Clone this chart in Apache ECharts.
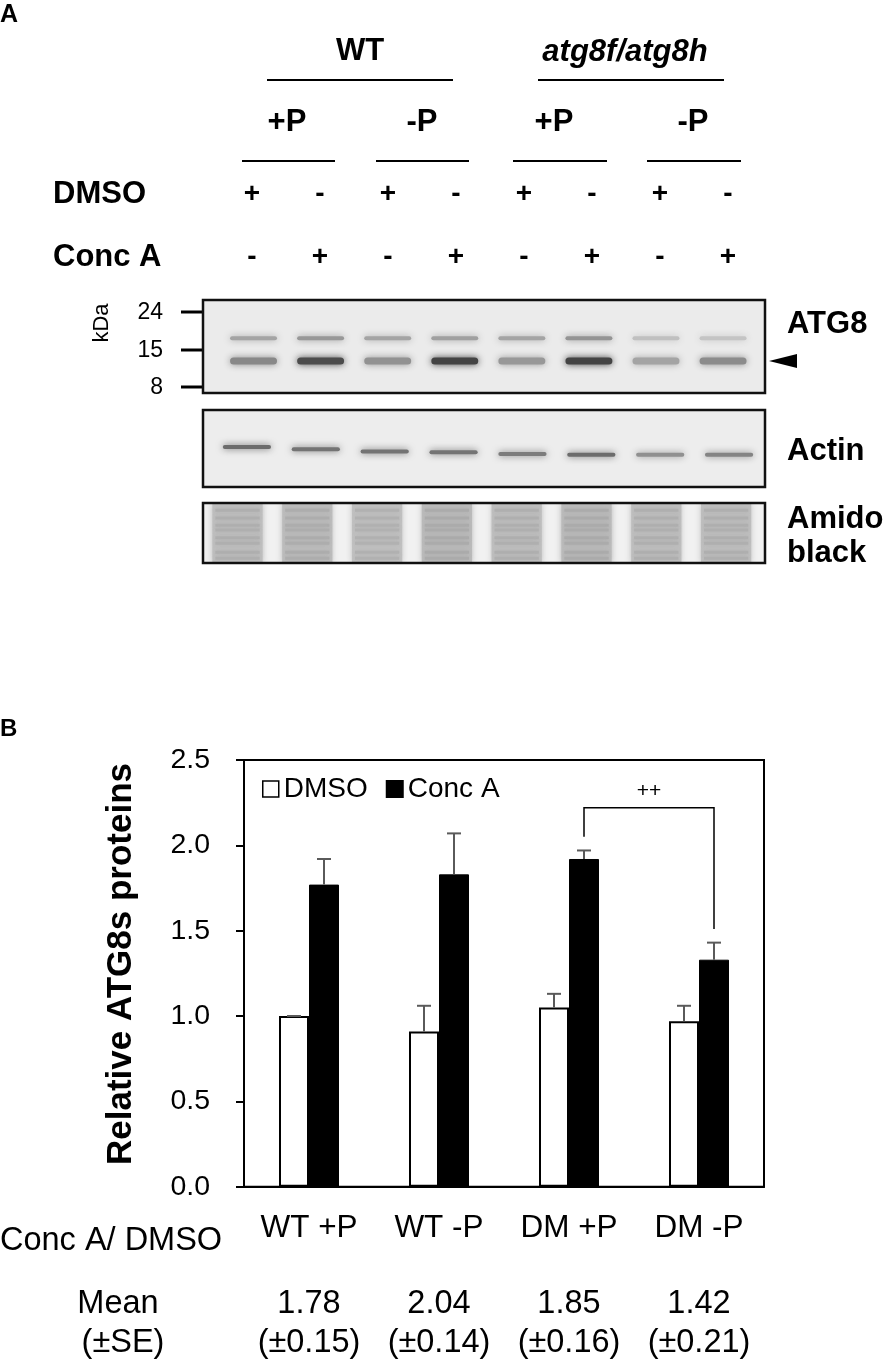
<!DOCTYPE html>
<html>
<head>
<meta charset="utf-8">
<title>ATG8 blot and quantification</title>
<script src="https://cdn.jsdelivr.net/npm/echarts@6/dist/echarts.min.js"></script>
<style>
html, body { margin: 0; padding: 0; background: #fff; }
#main { width: 886px; height: 1360px; }
</style>
</head>
<body>
<div id="main"></div>
<script>
var FONT = "'Liberation Sans', Arial, sans-serif";

// ---- panel B data ----
var groups = ['WT +P', 'WT -P', 'DM +P', 'DM -P'];
var dmsoMean = [1.00, 0.91, 1.05, 0.97];
var dmsoSE = [0.00, 0.15, 0.08, 0.09];
var concMean = [1.77, 1.83, 1.92, 1.33];
var concSE = [0.15, 0.24, 0.05, 0.10];
var ratioMean = ['1.78', '2.04', '1.85', '1.42'];
var ratioSE = ['0.15', '0.14', '0.16', '0.21'];
var sigPair = [2, 3];
var sigLevel = 2.22;
var sigLabel = '++';

// ---- panel A data ----
var lanes = ['1', '2', '3', '4', '5', '6', '7', '8'];
var dmsoSigns = ['+', '-', '+', '-', '+', '-', '+', '-'];
var concSigns = ['-', '+', '-', '+', '-', '+', '-', '+'];
var kdaMarks = ['24', '15', '8'];
// band darkness 0..1 per lane
var atg8Upper = [0.36, 0.42, 0.36, 0.38, 0.36, 0.44, 0.22, 0.20];
var atg8Lower = [0.50, 0.80, 0.45, 0.84, 0.42, 0.84, 0.36, 0.48];
var actinBand = [0.64, 0.60, 0.60, 0.60, 0.56, 0.64, 0.46, 0.52];
var actinRow = [0.52, 0.49, 0.46, 0.45, 0.43, 0.42, 0.42, 0.42];
var amidoLane = [0.85, 0.90, 0.82, 0.92, 0.85, 0.92, 0.85, 0.85];
var amidoStripes = [0.88, 0.75, 0.63, 0.55, 0.42, 0.33, 0.18, 0.08];

var barW = 30;

function grey(g) {
    g = Math.max(0, Math.min(255, Math.round(g)));
    return 'rgb(' + g + ',' + g + ',' + g + ')';
}

function bandItem(params, api) {
    var c = api.coord([api.value(0), api.value(1)]);
    var w = api.size([1, 0])[0] * 0.70;
    var h = api.value(3) === 1 ? 7 : 4;
    var col = grey(236 - api.value(2) * 200);
    return {
        type: 'rect',
        shape: { x: c[0] - w / 2, y: c[1] - h / 2, width: w, height: h, r: h / 2 },
        style: { fill: col, shadowBlur: 7, shadowColor: col }
    };
}

function amidoItem(params, api) {
    var i = api.value(0);
    var top = api.coord([i, 1]);
    var bot = api.coord([i, 0]);
    var w = api.size([1, 0])[0] * 0.72;
    var x = top[0] - w / 2;
    var g = 238 - api.value(1) * 55;
    var kids = [{
        type: 'rect',
        shape: { x: x, y: top[1], width: w, height: bot[1] - top[1] },
        style: { fill: grey(g), shadowBlur: 6, shadowColor: grey(g) }
    }];
    amidoStripes.forEach(function (s) {
        var p = api.coord([i, s]);
        kids.push({
            type: 'rect',
            shape: { x: x + 3, y: p[1] - 1.5, width: w - 6, height: 3 },
            style: { fill: grey(g - 16), shadowBlur: 4, shadowColor: grey(g - 16) }
        });
    });
    return { type: 'group', children: kids };
}

function errItem(params, api) {
    var i = api.value(0), m = api.value(1), se = api.value(2), side = api.value(3);
    var base = api.coord([i, m]);
    var top = api.coord([i, m + se]);
    var x = base[0] + side * barW / 2;
    var st = { stroke: '#5a5a5a', lineWidth: 2 };
    return {
        type: 'group',
        children: [
            { type: 'line', shape: { x1: x, y1: base[1], x2: x, y2: top[1] }, style: st },
            { type: 'line', shape: { x1: x - 7, y1: top[1], x2: x + 7, y2: top[1] }, style: st }
        ]
    };
}

function bracketItem(params, api) {
    var a = api.value(0), b = api.value(1);
    var pa = api.coord([a, api.value(3)]);
    var pb = api.coord([b, api.value(4)]);
    var pt = api.coord([a, api.value(2)]);
    var xa = pa[0] + barW / 2, xb = pb[0] + barW / 2;
    return {
        type: 'group',
        children: [
            {
                type: 'polyline',
                shape: { points: [[xa, pa[1]], [xa, pt[1]], [xb, pt[1]], [xb, pb[1]]] },
                style: { stroke: '#000', lineWidth: 1.5, fill: null }
            },
            {
                type: 'text', x: (xa + xb) / 2, y: pt[1] - 17,
                style: { text: sigLabel, fontSize: 21, fontFamily: FONT, fill: '#000', align: 'center', verticalAlign: 'middle' }
            }
        ]
    };
}

function txt(x, y, s, size, o) {
    o = o || {};
    return {
        type: 'text', x: x, y: y, z: 50, rotation: o.rot || 0,
        style: {
            text: s, fill: '#000', fontSize: size, fontFamily: FONT,
            fontWeight: o.bold ? 'bold' : 'normal', fontStyle: o.italic ? 'italic' : 'normal',
            align: o.align || 'center', verticalAlign: 'middle'
        }
    };
}

function hline(x1, x2, y, w) {
    return { type: 'line', z: 50, shape: { x1: x1, y1: y, x2: x2, y2: y }, style: { stroke: '#000', lineWidth: w || 2 } };
}

// ---- panel A annotations ----
var ann = [];
ann.push(txt(0, 15, 'A', 25, { bold: true, align: 'left' }));
ann.push(txt(360, 51, 'WT', 31, { bold: true }));
ann.push(txt(625, 52, 'atg8f/atg8h', 31, { bold: true, italic: true }));
ann.push(hline(267, 453, 80));
ann.push(hline(538, 724, 80));
[['+P', 287], ['-P', 422], ['+P', 554], ['-P', 693]].forEach(function (p) {
    ann.push(txt(p[1], 122, p[0], 31, { bold: true }));
});
[[242, 335], [376, 469], [513, 607], [647, 741]].forEach(function (p) {
    ann.push(hline(p[0], p[1], 161));
});
ann.push(txt(53, 194, 'DMSO', 31, { bold: true, align: 'left' }));
ann.push(txt(53, 257, 'Conc A', 31, { bold: true, align: 'left' }));
lanes.forEach(function (l, i) {
    ann.push(txt(252 + 68 * i, 194, dmsoSigns[i], 28, { bold: true }));
    ann.push(txt(252 + 68 * i, 257, concSigns[i], 28, { bold: true }));
});

// blot frames
[[300, 393, '#ebebeb'], [410, 487, '#ededed'], [503, 563, '#f1f1f1']].forEach(function (p) {
    ann.push({ type: 'rect', z: 0, shape: { x: 203, y: p[0], width: 562, height: p[1] - p[0] }, style: { fill: p[2] } });
    ann.push({ type: 'rect', z: 60, shape: { x: 203, y: p[0], width: 562, height: p[1] - p[0] }, style: { fill: null, stroke: '#111', lineWidth: 2.5 } });
});
// kDa marker
kdaMarks.forEach(function (k, i) {
    var y = [312, 350, 387][i];
    ann.push(txt(163, y + 1, k, 23, { align: 'right' }));
    ann.push(hline(181, 202, y, 3));
});
ann.push(txt(102, 323, 'kDa', 22, { rot: Math.PI / 2 }));
ann.push(txt(787, 324, 'ATG8', 31, { bold: true, align: 'left' }));
ann.push({ type: 'polygon', z: 50, shape: { points: [[797, 354], [797, 368], [769, 361]] }, style: { fill: '#000' } });
ann.push(txt(787, 451, 'Actin', 31, { bold: true, align: 'left' }));
ann.push(txt(787, 519, 'Amido', 31, { bold: true, align: 'left' }));
ann.push(txt(787, 553, 'black', 31, { bold: true, align: 'left' }));
ann.push(txt(0, 729, 'B', 24, { bold: true, align: 'left' }));
ann.push(txt(121, 964, 'Relative ATG8s proteins', 35, { bold: true, rot: Math.PI / 2 }));

// custom series data
var atg8Data = [];
lanes.forEach(function (l, i) {
    atg8Data.push([i, 0.59, atg8Upper[i], 2]);
    atg8Data.push([i, 0.344, atg8Lower[i], 1]);
});
var actinData = lanes.map(function (l, i) { return [i, actinRow[i], actinBand[i], 3]; });
var amidoData = lanes.map(function (l, i) { return [i, amidoLane[i]]; });
var errData = [];
groups.forEach(function (g, i) {
    errData.push([i, dmsoMean[i], dmsoSE[i], -1]);
    errData.push([i, concMean[i], concSE[i], 1]);
});
var bracketData = [[sigPair[0], sigPair[1], sigLevel,
    concMean[sigPair[0]] + concSE[sigPair[0]] + 0.08,
    concMean[sigPair[1]] + concSE[sigPair[1]] + 0.08]];

function blotAxes(k) {
    return {
        x: { type: 'category', gridIndex: k, data: lanes, show: false },
        y: { type: 'value', gridIndex: k, min: 0, max: 1, show: false }
    };
}
var b1 = blotAxes(1), b2 = blotAxes(2), b3 = blotAxes(3);

var chart = echarts.init(document.getElementById('main'));
var option = {
    animation: false,
    backgroundColor: '#fff',
    textStyle: { fontFamily: FONT },
    grid: [
        { left: 244, top: 760, width: 520, height: 426.7, show: true, borderColor: '#000', borderWidth: 2, containLabel: false },
        { left: 220, top: 300, width: 536.6, height: 93 },
        { left: 212.5, top: 410, width: 551, height: 77 },
        { left: 202.6, top: 503, width: 558.4, height: 60 }
    ],
    legend: {
        left: 257, top: 770, itemWidth: 16, itemHeight: 16, itemGap: 18, icon: 'rect',
        textStyle: { fontSize: 28, color: '#000', fontFamily: FONT },
        data: [
            { name: 'DMSO', itemStyle: { color: '#fff', borderColor: '#000', borderWidth: 1.5 } },
            { name: 'Conc A', itemStyle: { color: '#000' } }
        ]
    },
    xAxis: [
        {
            type: 'category', gridIndex: 0, data: groups,
            axisLine: { lineStyle: { color: '#000', width: 2 } },
            axisTick: { show: false },
            axisLabel: { fontSize: 31.5, color: '#000', margin: 26, fontFamily: FONT }
        },
        b1.x, b2.x, b3.x
    ],
    yAxis: [
        {
            type: 'value', gridIndex: 0, min: 0, max: 2.5, interval: 0.5,
            axisLine: { show: true, lineStyle: { color: '#000', width: 2 } },
            axisTick: { show: true, length: 8, lineStyle: { color: '#000', width: 2 } },
            axisLabel: { fontSize: 28.5, color: '#000', margin: 34, fontFamily: FONT, formatter: function (v) { return v.toFixed(1); } },
            splitLine: { show: false }
        },
        b1.y, b2.y, b3.y
    ],
    series: [
        {
            name: 'DMSO', type: 'bar', xAxisIndex: 0, yAxisIndex: 0, data: dmsoMean,
            barWidth: barW, barGap: '0%',
            itemStyle: { color: '#fff', borderColor: '#000', borderWidth: 2 }
        },
        {
            name: 'Conc A', type: 'bar', xAxisIndex: 0, yAxisIndex: 0, data: concMean,
            barWidth: barW, barGap: '0%',
            itemStyle: { color: '#000', borderColor: '#000', borderWidth: 1 }
        },
        { type: 'custom', xAxisIndex: 0, yAxisIndex: 0, z: 5, renderItem: errItem, data: errData },
        { type: 'custom', xAxisIndex: 0, yAxisIndex: 0, z: 5, renderItem: bracketItem, data: bracketData, clip: false },
        { type: 'custom', xAxisIndex: 1, yAxisIndex: 1, renderItem: bandItem, data: atg8Data },
        { type: 'custom', xAxisIndex: 2, yAxisIndex: 2, renderItem: bandItem, data: actinData },
        { type: 'custom', xAxisIndex: 3, yAxisIndex: 3, renderItem: amidoItem, data: amidoData, clip: true }
    ],
    graphic: { elements: ann }
};
chart.setOption(option);

// table under the bar chart, placed on the category positions
var below = [];
below.push(txt(0, 1241, 'Conc A/ DMSO', 32.5, { align: 'left' }));
below.push(txt(118, 1304, 'Mean', 32.5));
below.push(txt(123, 1343, '(±SE)', 32.5));
groups.forEach(function (g, i) {
    var x = chart.convertToPixel({ xAxisIndex: 0 }, i);
    below.push(txt(x, 1304, ratioMean[i], 32.5));
    below.push(txt(x, 1343, '(±' + ratioSE[i] + ')', 32.5));
});
chart.setOption({ graphic: { elements: ann.concat(below) } });
</script>
</body>
</html>
